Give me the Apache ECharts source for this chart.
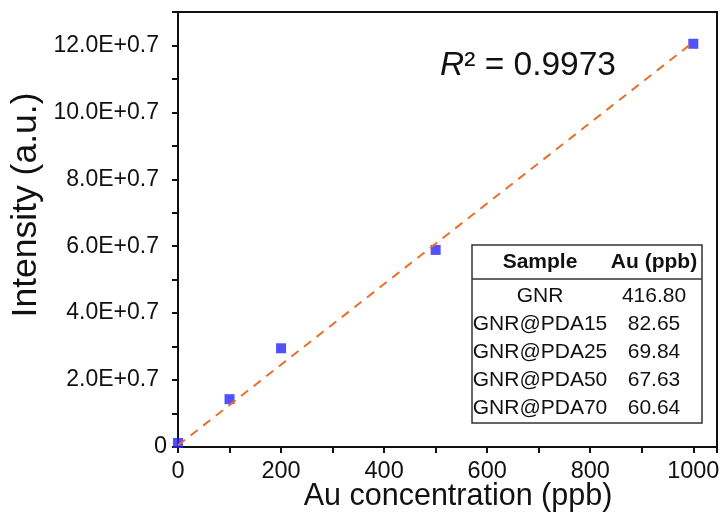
<!DOCTYPE html>
<html>
<head>
<meta charset="utf-8">
<script src="https://cdn.jsdelivr.net/npm/echarts@6/dist/echarts.min.js"></script>
<style>
  html, body { margin: 0; padding: 0; background: #fff; }
  #chart { width: 725px; height: 519px; }
</style>
</head>
<body>
<div id="chart"></div>
<script>
// calibration points (Au ppb vs intensity, in units of E+0.7)
const concX = [0, 100, 200, 500, 1000];
const intensityY = [0.12, 1.43, 2.95, 5.89, 12.05];

// linear fit line endpoints
const fitX = [0, 1000];
const fitY = [0.05, 12.1];

const r2Value = '0.9973';

// inset table
const tableHeader = ['Sample', 'Au (ppb)'];
const sampleNames = ['GNR', 'GNR@PDA15', 'GNR@PDA25', 'GNR@PDA50', 'GNR@PDA70'];
const auValues = ['416.80', '82.65', '69.84', '67.63', '60.64'];

const FONT = '"Liberation Sans", Arial, sans-serif';

// table layout
const tb = { left: 472, top: 245, right: 702, bottom: 423, headLine: 279, colA: 540, colB: 654 };
const headY = 262;
const rowY = [296, 324, 352, 380, 408];

const tableGraphics = [
  { type: 'rect', shape: { x: tb.left, y: tb.top, width: tb.right - tb.left, height: tb.bottom - tb.top },
    style: { fill: '#fff', stroke: '#333', lineWidth: 1.5 }, z: 100 },
  { type: 'line', shape: { x1: tb.left, y1: tb.headLine, x2: tb.right, y2: tb.headLine },
    style: { stroke: '#333', lineWidth: 1.5 }, z: 101 },
  { type: 'text', x: tb.colA, y: headY, z: 101,
    style: { text: tableHeader[0], font: 'bold 21px ' + FONT, fill: '#111', align: 'center', verticalAlign: 'middle' } },
  { type: 'text', x: tb.colB, y: headY, z: 101,
    style: { text: tableHeader[1], font: 'bold 21px ' + FONT, fill: '#111', align: 'center', verticalAlign: 'middle' } }
];
sampleNames.forEach((name, i) => {
  tableGraphics.push({ type: 'text', x: tb.colA, y: rowY[i], z: 101,
    style: { text: name, font: '21px ' + FONT, fill: '#111', align: 'center', verticalAlign: 'middle' } });
  tableGraphics.push({ type: 'text', x: tb.colB, y: rowY[i], z: 101,
    style: { text: auValues[i], font: '21px ' + FONT, fill: '#111', align: 'center', verticalAlign: 'middle' } });
});

const chart = echarts.init(document.getElementById('chart'));
chart.setOption({
  animation: false,
  backgroundColor: '#fff',
  grid: { left: 178, top: 12, right: 8, bottom: 72, show: true, borderColor: '#111', borderWidth: 2 },
  xAxis: {
    type: 'value', min: 0, max: 1046, interval: 100,
    axisLine: { show: true, onZero: false, lineStyle: { color: '#111', width: 2 } },
    axisTick: { show: true, length: 6, lineStyle: { color: '#111', width: 2 } },
    axisLabel: { fontSize: 23.5, color: '#111', fontFamily: FONT, margin: 13,
      formatter: v => (v % 200 === 0 ? String(v) : '') },
    splitLine: { show: false }
  },
  yAxis: {
    type: 'value', min: 0, max: 13, interval: 1,
    axisLine: { show: true, onZero: false, lineStyle: { color: '#111', width: 2 } },
    axisTick: { show: true, length: 6, lineStyle: { color: '#111', width: 2 } },
    axisLabel: { fontSize: 23.5, color: '#111', fontFamily: FONT, margin: 11,
      formatter: v => (v === 0 ? '0' : (v % 2 === 0 ? '{e|' + v.toFixed(1) + 'E+0.7}' : '')),
      rich: { e: { fontSize: 23, color: '#111', fontFamily: FONT, padding: [0, 8, 0, 0] } } },
    splitLine: { show: false }
  },
  series: [
    {
      type: 'scatter', symbol: 'rect', symbolSize: 10,
      itemStyle: { color: '#2626ff' },
      data: concX.map((x, i) => [x, intensityY[i]]), z: 2
    },
    {
      type: 'line', symbol: 'none',
      lineStyle: { color: '#e8702a', width: 2, type: [9, 7] },
      data: fitX.map((x, i) => [x, fitY[i]]), z: 3
    }
  ],
  graphic: [
    { type: 'text', left: 440, top: 49, z: 100,
      style: {
        text: '{i|R}{n|² = ' + r2Value + '}',
        rich: {
          i: { fontSize: 33.5, fontStyle: 'italic', fontFamily: FONT, fill: '#111' },
          n: { fontSize: 33.5, fontFamily: FONT, fill: '#111' }
        }
      } },
    { type: 'text', x: 26, y: 205, rotation: Math.PI / 2, z: 100,
      style: { text: 'Intensity (a.u.)', font: '35.5px ' + FONT, fill: '#111', align: 'center', verticalAlign: 'middle' } },
    { type: 'text', x: 458, y: 497, z: 100,
      style: { text: 'Au concentration (ppb)', font: '30.5px ' + FONT, fill: '#111', align: 'center', verticalAlign: 'middle' } }
  ].concat(tableGraphics)
});
</script>
</body>
</html>
